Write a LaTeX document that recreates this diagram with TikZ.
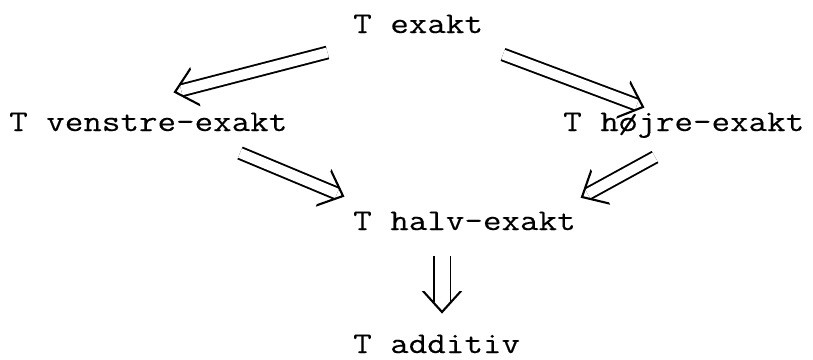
\documentclass[tikz,border=0pt]{standalone}
\usepackage{fontspec}
\setmonofont{Latin Modern Mono}[FakeStretch=1.2,FakeBold=0.3]
\usetikzlibrary{decorations.markings}
\begin{document}
\begin{tikzpicture}[x=1pt,y=-1pt,
  lbl/.style={anchor=base west, inner sep=0pt, font=\ttfamily\fontsize{30}{36}\selectfont},
  % open V head drawn as a thin filled chevron, so the double shaft does not affect it
  vhead/.style={postaction={decorate, decoration={markings,
      mark=at position 1 with {\fill (-21,20.4) -- (1.6,0) -- (-21,-20.4) -- (-21,-17.6) -- (-1.6,0) -- (-21,17.6) -- cycle;}}}},
  imp/.style={double, double distance=10pt, line width=1.9pt, shorten >=6.5pt, vhead},
  impv/.style={double, double distance=15pt, line width=1.9pt, shorten >=10pt, vhead}]
\useasboundingbox (0,0) rectangle (813,359);

% the five statements
\node[lbl] (exakt)   at (353,33)  {T exakt};
\node[lbl] (venstre) at (9,131)   {T venstre-exakt};
\node[lbl] (hojre)   at (563,131) {T højre-exakt};
\node[lbl] (halv)    at (353,230) {T halv-exakt};
\node[lbl] (additiv) at (353,353) {T additiv};

% implications
\draw[imp] ([shift={(-25.5,19.5)}]exakt.base west) -- ([shift={(166,-39)}]venstre.base west);
\draw[imp] ([shift={(150,21.5)}]exakt.base west) -- ([shift={(80,-24)}]hojre.base west);
\draw[imp] ([shift={(231,22)}]venstre.base west) -- ([shift={(-10,-34)}]halv.base west);
\draw[imp] ([shift={(92,26)}]hojre.base west) -- ([shift={(229,-33)}]halv.base west);
\draw[impv] ([shift={(89,26)}]halv.base west) -- ([shift={(89,-41)}]additiv.base west);
\end{tikzpicture}
\end{document}
